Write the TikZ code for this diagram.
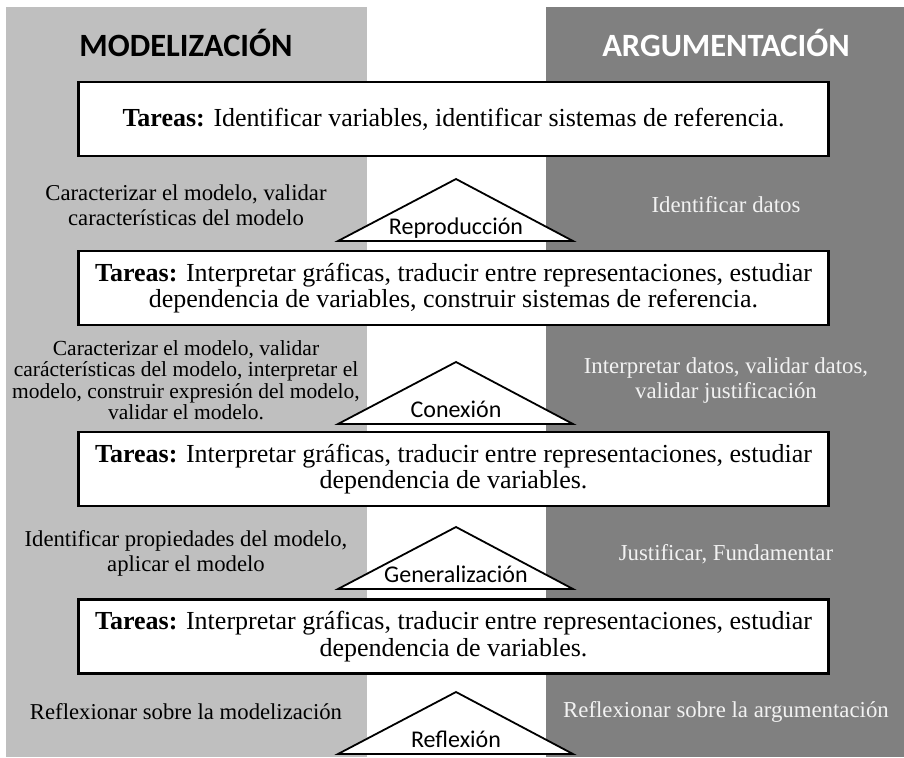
\documentclass[tikz,border=0pt]{standalone}
\usepackage{fontspec}
\setmainfont{Liberation Serif}
\newfontfamily\calibfont{Carlito}
\definecolor{grisclaro}{gray}{0.75}
\definecolor{grisoscuro}{gray}{0.5}
\definecolor{casiblanco}{gray}{0.95}
\tikzset{
  tarea/.style={draw=black, line width=2.5pt, fill=white, minimum width=750pt,
    minimum height=74pt, align=center, font=\fontsize{26}{26.5}\selectfont},
  nivel/.style={draw=black, line width=1.8pt, fill=white, line join=miter},
  etiqueta/.style={anchor=base, font=\calibfont\fontsize{24}{26}\selectfont},
  izq/.style={align=center, font=\fontsize{22.7}{25}\selectfont},
  der/.style={align=center, text=casiblanco, font=\fontsize{22.8}{25}\selectfont},
  titulo/.style={anchor=base, font=\calibfont\bfseries\fontsize{32.5}{36}\selectfont}
}
\begin{document}
\begin{tikzpicture}[x=1pt, y=-1pt]
  \useasboundingbox (0,0) rectangle (904,757);
  % columnas de fondo
  \fill[grisclaro] (6,7) rectangle (367,757);
  \fill[grisoscuro] (546,7) rectangle (904,757);
  \node[titulo] (modelo) at (186,57) {MODELIZACIÓN};
  \node[titulo, text=white] (argum) at (726,57) {ARGUMENTACIÓN};

  % niveles (triangulos)
  \foreach \y/\nombre/\txt in {179/rep/Reproducción, 362/con/Conexión,
      527/gen/Generalización, 692/ref/Reflexión} {
    \draw[nivel] (338,\y+62) -- (456,\y) -- (573,\y+62) -- cycle;
    \node[etiqueta] (\nombre) at (456,\y+55) {\txt};
  }

  % tareas
  \node[tarea] (tarea1) at (453.5,119) {\textbf{Tareas:} Identificar variables, identificar sistemas de referencia.};
  \node[tarea] (tarea2) at (453.5,288) {\textbf{Tareas:} Interpretar gráficas, traducir entre representaciones, estudiar\\
    dependencia de variables, construir sistemas de referencia.};
  \node[tarea] (tarea3) at (453.5,469) {\textbf{Tareas:} Interpretar gráficas, traducir entre representaciones, estudiar\\
    dependencia de variables.};
  \node[tarea] (tarea4) at (453.5,636.5) {\textbf{Tareas:} Interpretar gráficas, traducir entre representaciones, estudiar\\
    dependencia de variables.};

  % modelizacion
  \node[izq] (mod1) at (186,205) {Caracterizar el modelo, validar\\ características del modelo};
  \node[izq, font=\fontsize{21.5}{21.5}\selectfont] (mod2) at (186,380) {Caracterizar el modelo, validar\\
    carácterísticas del modelo, interpretar el\\ modelo, construir expresión del modelo,\\ validar el modelo.};
  \node[izq] (mod3) at (186,553) {Identificar propiedades del modelo,\\ aplicar el modelo};
  \node[izq] (mod4) at (186,712) {Reflexionar sobre la modelización};

  % argumentacion
  \node[der] (arg1) at (726,205) {Identificar datos};
  \node[der] (arg2) at (726,381) {Interpretar datos, validar datos,\\ validar justificación};
  \node[der] (arg3) at (726,554) {Justificar, Fundamentar};
  \node[der] (arg4) at (726,712) {Reflexionar sobre la argumentación};
\end{tikzpicture}
\end{document}
